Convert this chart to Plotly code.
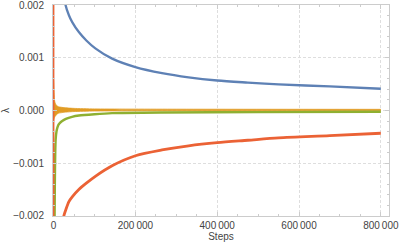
import plotly.graph_objects as go

# ---- data ----
blue_steps = [27000, 29300, 37400, 45500, 61700, 80000, 102000, 143000, 200000, 265000,
              330000, 400000, 475000, 550000, 675000, 800000]
blue_vals = [0.00215, 0.00200, 0.00181, 0.00168, 0.00149, 0.00133, 0.00118, 0.000985,
             0.000825, 0.00071, 0.00063, 0.00057, 0.00053, 0.000495, 0.000457, 0.000413]

red_steps = [22000, 25100, 30000, 37400, 45500, 61700, 80000, 102000, 143000, 200000,
             265000, 330000, 400000, 475000, 550000, 675000, 800000]
red_vals = [-0.00225, -0.00200, -0.00188, -0.00173, -0.00164, -0.00150, -0.00138, -0.00125,
            -0.00105, -0.00086, -0.00075, -0.00067, -0.00061, -0.000565, -0.00052, -0.000478,
            -0.000432]

red_spike_steps = [0, 0]
red_spike_vals = [0.0025, -0.0025]

green_steps = [2000, 3000, 4000, 5000, 7000, 9000, 12000, 15000, 21000, 30000, 45000,
               62000, 100000, 143000, 265000, 500000, 800000]
green_vals = [-0.0025, -0.0014, -0.0008, -0.00055, -0.00040, -0.00033, -0.00027, -0.00024,
              -0.00020, -0.00016, -0.00012, -0.000095, -0.00007, -0.00005, -0.000038,
              -0.00003, -0.000025]

yellow_steps = [0, 500, 1000, 2000, 3000, 5000, 8000, 12000, 20000, 30000, 50000, 100000,
                300000, 800000]
yellow_upper = [0.00058, 0.0005, 0.00038, 0.00022, 0.00016, 0.00012, 0.00009, 0.00007,
                0.00006, 0.00005, 0.00004, 0.00003, 0.000025, 0.000022]
yellow_lower = [-0.0002, -0.00018, -0.00016, -0.00014, -0.00012, -0.0001, -0.00007,
                -0.00005, -0.00004, -0.00003, -0.00002, -0.00001, -0.000005, -0.000005]

x_tickvals = [0, 200000, 400000, 600000, 800000]
x_ticktext = ["0", "200\u2009000", "400\u2009000", "600\u2009000", "800\u2009000"]
y_tickvals = [-0.002, -0.001, 0.0, 0.001, 0.002]
y_ticktext = ["\u22120.002", "\u22120.001", "0.000", "0.001", "0.002"]

BLUE = "#5E81B5"
YELLOW = "#E19C24"
GREEN = "#8FB032"
RED = "#EB6235"

fig = go.Figure()

fig.add_trace(go.Scatter(x=blue_steps, y=blue_vals, mode="lines",
                         line=dict(color=BLUE, width=2.3, shape="spline", smoothing=0.8)))

fig.add_trace(go.Scatter(x=yellow_steps, y=yellow_upper, mode="lines",
                         line=dict(color=YELLOW, width=0.8, shape="spline", smoothing=0.6)))
fig.add_trace(go.Scatter(x=yellow_steps, y=yellow_lower, mode="lines", fill="tonexty",
                         fillcolor=YELLOW,
                         line=dict(color=YELLOW, width=0.8, shape="spline", smoothing=0.6)))

fig.add_trace(go.Scatter(x=green_steps, y=green_vals, mode="lines",
                         line=dict(color=GREEN, width=2.4, shape="spline", smoothing=0.6)))

fig.add_trace(go.Scatter(x=red_steps, y=red_vals, mode="lines",
                         line=dict(color=RED, width=2.8, shape="spline", smoothing=0.8)))
fig.add_trace(go.Scatter(x=red_spike_steps, y=red_spike_vals, mode="lines",
                         line=dict(color=RED, width=1.6)))

FRAME = "#cccccc"
GRID = "#dedede"
font = dict(family="Liberation Sans, Arial, sans-serif", size=10, color="#444444")

fig.update_layout(
    width=399, height=244,
    margin=dict(l=53, r=10, t=5, b=28, autoexpand=False),
    paper_bgcolor="white", plot_bgcolor="white",
    showlegend=False,
    font=font,
)
fig.update_xaxes(
    range=[-1500, 820000],
    automargin=False,
    tickvals=x_tickvals, ticktext=x_ticktext,
    ticks="inside", ticklen=4, tickcolor=FRAME, tickwidth=1,
    ticklabelstandoff=0, ticklabeloverflow="allow",
    minor=dict(dtick=50000, tick0=0, ticks="inside", ticklen=2, tickcolor=FRAME, showgrid=False),
    showline=True, linecolor=FRAME, linewidth=1, mirror="ticks",
    showgrid=True, gridcolor=GRID, griddash="3px,2px", gridwidth=1,
    zeroline=False,
    title=dict(text="Steps", standoff=0, font=font),
)
fig.update_yaxes(
    range=[-0.002004, 0.002004],
    automargin=False,
    tickvals=y_tickvals, ticktext=y_ticktext,
    ticks="inside", ticklen=4, tickcolor=FRAME, tickwidth=1,
    ticklabelstandoff=6, ticklabeloverflow="allow",
    minor=dict(dtick=0.0002, tick0=0, ticks="inside", ticklen=2, tickcolor=FRAME, showgrid=False),
    showline=True, linecolor=FRAME, linewidth=1, mirror="ticks",
    showgrid=True, gridcolor=GRID, griddash="3px,2px", gridwidth=1,
    zeroline=False,
    title=dict(text="λ", standoff=6, font=font),
)

fig.write_html("out.html",
               config={"displayModeBar": False},
               post_script="document.body.style.margin='0';document.body.style.overflow='hidden';")
